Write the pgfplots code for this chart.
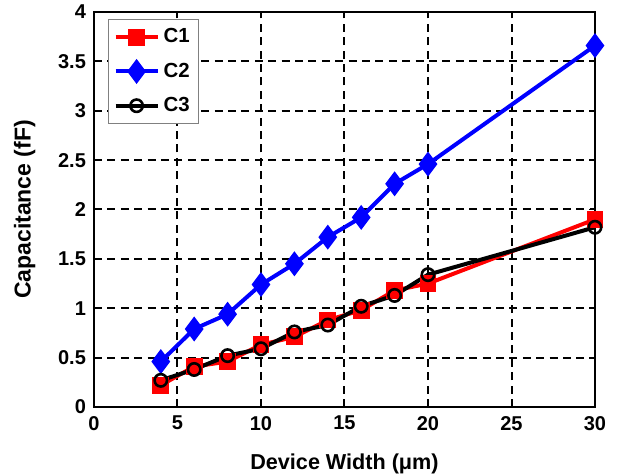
\documentclass[border=0pt]{standalone}
\usepackage{fontspec}
\setmainfont{Liberation Sans}
\usepackage{pgfplots}
\pgfplotsset{compat=1.18}
\begin{document}
\begin{tikzpicture}
\begin{axis}[
  scale only axis,
  width=250.5pt, height=197.5pt,
  xmin=0, xmax=30, ymin=0, ymax=4,
  xtick={0,5,...,30}, ytick={0,0.5,...,4},
  yticklabels={0,0.5,1,1.5,2,2.5,3,3.5,4},
  /pgf/number format/assume math mode=true,
  tick label style={font=\fontsize{10}{11}\selectfont\bfseries},
  xticklabel style={yshift=-1pt},
  yticklabel style={xshift=-0.5pt},
  xlabel={Device Width (μm)},
  ylabel={Capacitance (fF)},
  xlabel style={yshift=-5pt, font=\fontsize{10.8}{13}\selectfont\bfseries},
  ylabel style={yshift=4.5pt, font=\fontsize{11.5}{13}\selectfont\bfseries},
  axis line style={line width=1.4pt},
  tick style={line width=0.9pt, black},
  major tick length=3pt,
  tick align=inside,
  grid=major,
  major grid style={dashed, dash pattern=on 4pt off 2.7pt, line width=1pt, black},
  legend style={at={(0.028,0.982)}, anchor=north west, draw=gray, line width=0.5pt,
    font=\fontsize{10.2}{12}\selectfont\bfseries, row sep=4.5pt, inner sep=2.5pt},
  legend cell align=left,
  legend image code/.code={\draw[#1] (0cm,0cm) -- (0.37cm,0cm) (0.37cm,0cm) -- (0.74cm,0cm);
     \draw[#1, mark repeat=1] plot coordinates {(0.37cm,0cm)};},
]
\addplot[red, line width=2pt, mark=square*, mark size=3.2pt, mark options={solid, fill=red}] coordinates {
(4,0.22) (6,0.41) (8,0.46) (10,0.63) (12,0.71) (14,0.88) (16,0.98) (18,1.18) (20,1.25) (30,1.90)};
\addlegendentry{C1}
\addplot[blue, line width=2pt, mark=diamond*, mark size=4.6pt, mark options={solid, fill=blue}] coordinates {
(4,0.46) (6,0.79) (8,0.94) (10,1.24) (12,1.45) (14,1.72) (16,1.92) (18,2.26) (20,2.46) (30,3.66)};
\addlegendentry{C2}
\addplot[black, line width=2pt, mark=o, mark size=3.1pt, mark options={solid, line width=1.3pt}] coordinates {
(4,0.27) (6,0.38) (8,0.52) (10,0.59) (12,0.76) (14,0.83) (16,1.02) (18,1.13) (20,1.34) (30,1.82)};
\addlegendentry{C3}
\end{axis}
\pgfresetboundingbox
\path[use as bounding box] ([shift={(-47pt,-34pt)}]current axis.south west) rectangle ([shift={(13pt,6pt)}]current axis.north east);
\end{tikzpicture}
\end{document}
